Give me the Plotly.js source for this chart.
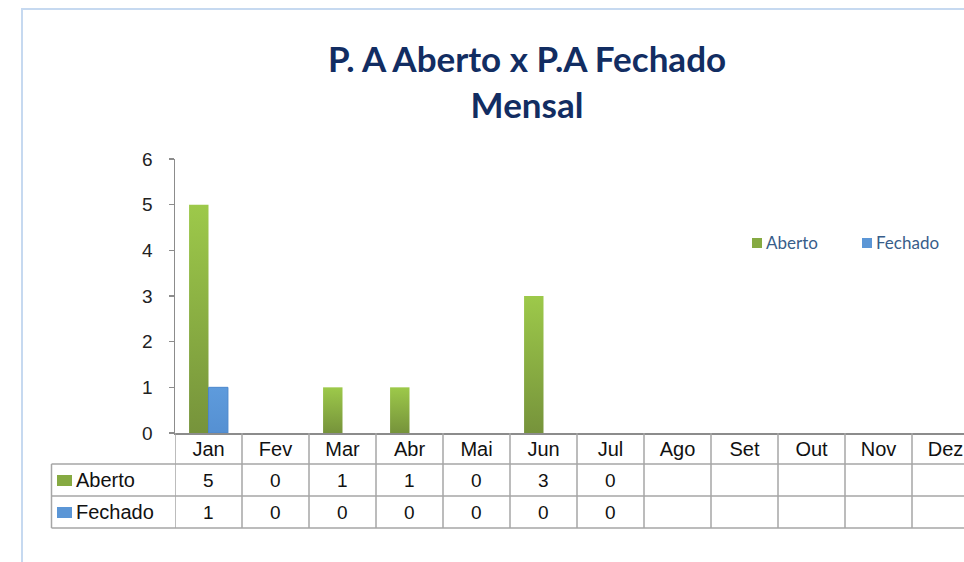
<!DOCTYPE html>
<html>
<head>
<meta charset="utf-8">
<script src="https://cdn.plot.ly/plotly-3.0.1.min.js"></script>
<style>
html,body{margin:0;padding:0;overflow:hidden;background:#fff;width:964px;height:562px;}
#chart{width:1000px;height:562px;}
</style>
</head>
<body>
<div id="chart"></div>
<script>
// ---- data ----
const months = ['Jan','Fev','Mar','Abr','Mai','Jun','Jul','Ago','Set','Out','Nov','Dez'];
const aberto = [5, 0, 1, 1, 0, 3, 0, null, null, null, null, null];
const fechado = [1, 0, 0, 0, 0, 0, 0, null, null, null, null, null];
const seriesNames = ['Aberto', 'Fechado'];
const yTicks = [0, 1, 2, 3, 4, 5, 6];
const titleText = 'P. A Aberto x P.A Fechado<br>Mensal';

// ---- layout geometry ----
const W = 1000, H = 562;
const L = 175, R = 979, T = 159, B = 433;
const pw = R - L, ph = B - T;
const px = x => (x - L) / pw;
const py = y => (B - y) / ph;

const greenKey = '#86aa42';
const blueKey = '#5b96d6';
const gridCol = '#a6a6a6';
const axisCol = '#8c8c8c';
const txtFont = 'Liberation Sans, Arial, sans-serif';

const traces = [
  {type: 'bar', name: seriesNames[0], x: months, y: aberto, marker: {color: '#8ab544'}, hoverinfo: 'x+y'},
  {type: 'bar', name: seriesNames[1], x: months, y: fechado, marker: {color: '#5b96d6'}, hoverinfo: 'x+y'}
];

const shapes = [];
// outer frame
shapes.push({type: 'rect', xref: 'paper', yref: 'paper', x0: px(22), x1: px(1400), y0: py(9), y1: py(900),
  line: {color: '#c6d9f0', width: 2}, fillcolor: 'rgba(0,0,0,0)', layer: 'below'});
// table horizontal lines
[464, 496, 528].forEach(y => shapes.push({type: 'line', xref: 'paper', yref: 'paper',
  x0: px(51.5), x1: px(1000), y0: py(y), y1: py(y), line: {color: gridCol, width: 1.5}}));
// table left border
shapes.push({type: 'line', xref: 'paper', yref: 'paper', x0: px(51.5), x1: px(51.5), y0: py(464), y1: py(528),
  line: {color: gridCol, width: 1.5}});
// table vertical lines at category boundaries
for (let i = 0; i <= months.length; i++) {
  shapes.push({type: 'line', xref: 'x', yref: 'paper', x0: i - 0.5, x1: i - 0.5, y0: py(433), y1: py(528),
    line: {color: gridCol, width: 1.5}});
}
// legend key squares in table
shapes.push({type: 'rect', xref: 'paper', yref: 'paper', x0: px(57), x1: px(72), y0: py(475), y1: py(486),
  line: {width: 0}, fillcolor: greenKey});
shapes.push({type: 'rect', xref: 'paper', yref: 'paper', x0: px(57), x1: px(72), y0: py(507), y1: py(518),
  line: {width: 0}, fillcolor: blueKey});
// top-right legend keys
shapes.push({type: 'rect', xref: 'paper', yref: 'paper', x0: px(752), x1: px(762), y0: py(238), y1: py(248),
  line: {width: 0}, fillcolor: greenKey});
shapes.push({type: 'rect', xref: 'paper', yref: 'paper', x0: px(862), x1: px(872), y0: py(238), y1: py(248),
  line: {width: 0}, fillcolor: blueKey});

const annotations = [];
const rows = [aberto, fechado];
const rowY = [480, 512];
rows.forEach((arr, r) => {
  arr.forEach((v, i) => {
    annotations.push({xref: 'x', yref: 'paper', x: months[i], y: py(rowY[r]), text: v === null ? '' : String(v),
      showarrow: false, xanchor: 'center', yanchor: 'middle', font: {family: txtFont, size: 19, color: '#111'}});
  });
  annotations.push({xref: 'paper', yref: 'paper', x: px(74), y: py(rowY[r]), text: seriesNames[r],
    showarrow: false, xanchor: 'left', yanchor: 'middle', font: {family: txtFont, size: 20, color: '#111'}});
});
// top-right legend text
annotations.push({xref: 'paper', yref: 'paper', x: px(764), y: py(242), text: seriesNames[0], showarrow: false,
  xanchor: 'left', yanchor: 'middle', font: {family: 'Lato, sans-serif', size: 17, color: '#385d8a'}});
annotations.push({xref: 'paper', yref: 'paper', x: px(874), y: py(242), text: seriesNames[1], showarrow: false,
  xanchor: 'left', yanchor: 'middle', font: {family: 'Lato, sans-serif', size: 17, color: '#385d8a'}});

const layout = {
  width: W, height: H,
  margin: {l: L, r: W - R, t: T, b: H - B, pad: 0},
  paper_bgcolor: '#fff', plot_bgcolor: '#fff',
  showlegend: false,
  barmode: 'group', bargap: 0.42, bargroupgap: 0,
  title: {text: titleText, x: 527 / W, xref: 'container', xanchor: 'center',
    y: 1 - 72 / H, yref: 'container', yanchor: 'top',
    font: {family: 'Lato, sans-serif', size: 35, color: '#122d62', weight: 'bold'}},
  xaxis: {type: 'category', range: [-0.5, months.length - 0.5], showline: true, linecolor: axisCol, linewidth: 1.5,
    ticks: '', showgrid: false, zeroline: false, tickfont: {family: txtFont, size: 20, color: '#111'},
    ticklabelstandoff: -3},
  yaxis: {range: [0, 6], tickvals: yTicks, showline: true, linecolor: axisCol, linewidth: 1.5,
    ticks: 'outside', ticklen: 5, tickcolor: axisCol, tickwidth: 1.5, showgrid: false, zeroline: false,
    tickfont: {family: txtFont, size: 19, color: '#222'}, ticklabelstandoff: 12},
  shapes: shapes, annotations: annotations
};

Plotly.newPlot('chart', traces, layout, {displayModeBar: false, staticPlot: true}).then(gd => {
  const svg = gd.querySelector('svg.main-svg');
  const defs = svg.querySelector('defs');
  const ns = 'http://www.w3.org/2000/svg';
  function grad(id, top, bottom) {
    const g = document.createElementNS(ns, 'linearGradient');
    g.setAttribute('id', id);
    g.setAttribute('x1', '0'); g.setAttribute('y1', '0'); g.setAttribute('x2', '0'); g.setAttribute('y2', '1');
    [[0, top], [1, bottom]].forEach(([o, c]) => {
      const s = document.createElementNS(ns, 'stop');
      s.setAttribute('offset', o); s.setAttribute('stop-color', c);
      g.appendChild(s);
    });
    defs.appendChild(g);
  }
  grad('gradAberto', '#9dc94a', '#76933b');
  grad('gradFechado', '#5e9bdc', '#5590d2');
  const tr = gd.querySelectorAll('.barlayer .trace');
  const ids = ['gradAberto', 'gradFechado'];
  tr.forEach((t, k) => {
    t.querySelectorAll('.point path').forEach(p => { p.style.fill = 'url(#' + ids[k] + ')'; });
  });
  tr[1] && tr[1].querySelectorAll('.point path').forEach(p => {
    const bb = p.getBBox();
    if (bb.height > 0.5) { p.style.stroke = '#4a86cc'; p.style.strokeWidth = '1px'; }
  });
});
</script>
</body>
</html>
